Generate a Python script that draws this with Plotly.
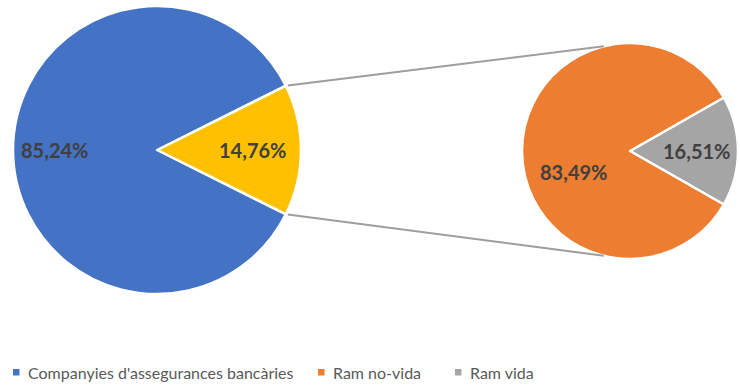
import math
import plotly.graph_objects as go

# Market share: bancassurance companies vs. the rest (main pie)
main_labels = ["Altres", "Companyies d'assegurances bancàries"]
main_values = [14.76, 85.24]
main_colors = ["#FFC000", "#4472C4"]

# Breakdown of the bancassurance share by line of business (secondary pie)
sub_labels = ["Ram vida", "Ram no-vida"]
sub_values = [16.51, 83.49]
sub_colors = ["#A5A5A5", "#ED7D31"]

legend_labels = ["Companyies d'assegurances bancàries", "Ram no-vida", "Ram vida"]
legend_colors = ["#4472C4", "#ED7D31", "#A5A5A5"]

W, H = 740, 387

# Pie geometry in pixels (centre x, centre y from top, radius)
C1 = (157, 150, 144)
C2 = (630, 151, 108)


def px(x):
    return x / W


def py(y):
    return 1 - y / H


def domain(c):
    cx, cy, r = c
    return dict(x=[px(cx - r), px(cx + r)], y=[py(cy + r), py(cy - r)])


def rotation_for_first(values):
    # centre the first slice on 3 o'clock (plotly measures clockwise from 12)
    return 90 - values[0] / sum(values) * 360 / 2


fig = go.Figure()

fig.add_trace(go.Pie(
    labels=main_labels, values=main_values, sort=False, direction="clockwise",
    rotation=rotation_for_first(main_values), domain=domain(C1),
    marker=dict(colors=main_colors, line=dict(color="white", width=2.5)),
    textinfo="none", hoverinfo="skip", showlegend=False,
))
fig.add_trace(go.Pie(
    labels=sub_labels, values=sub_values, sort=False, direction="clockwise",
    rotation=rotation_for_first(sub_values), domain=domain(C2),
    marker=dict(colors=sub_colors, line=dict(color="white", width=2.5)),
    textinfo="none", hoverinfo="skip", showlegend=False,
))


def fmt(v):
    return f"{v:.2f}".replace(".", ",") + "%"


def slice_point(c, values, idx, frac, extra_deg=0.0):
    cx, cy, r = c
    tot = sum(values)
    start = 0.0
    for v in values[:idx]:
        start += v / tot * 360
    mid = start + values[idx] / tot * 360 / 2
    # angle measured clockwise from 3 o'clock, first slice centred there
    a = math.radians(mid - values[0] / tot * 360 / 2 + extra_deg)
    return cx + frac * r * math.cos(a), cy + frac * r * math.sin(a)


label_font = dict(family="Lato, 'Open Sans', sans-serif", size=20, color="#404040")
placements = [
    (C1, main_values, 0, 0.66, 0),
    (C1, main_values, 1, 0.71, 0),
    (C2, sub_values, 0, 0.62, 0),
    (C2, sub_values, 1, 0.56, -20),
]
for c, vals, i, frac, extra in placements:
    x, y = slice_point(c, vals, i, frac, extra)
    fig.add_annotation(x=px(x), y=py(y), xref="paper", yref="paper",
                       text=f"<b>{fmt(vals[i])}</b>", showarrow=False,
                       font=label_font, xanchor="center", yanchor="middle")

# Connector lines from the edges of the exploded slice to the secondary pie
half = main_values[0] / sum(main_values) * math.pi
cx1, cy1, r1 = C1
cx2, cy2, r2 = C2
for s in (-1, 1):
    x0 = cx1 + r1 * math.cos(half)
    y0 = cy1 + s * r1 * math.sin(half)
    a2 = math.radians(104)
    x1 = cx2 + r2 * math.cos(a2)
    y1 = cy2 + s * r2 * math.sin(a2)
    fig.add_shape(type="line", xref="paper", yref="paper",
                  x0=px(x0 + 2), y0=py(y0), x1=px(x1), y1=py(y1),
                  line=dict(color="#9E9E9E", width=2))

# Legend drawn as coloured squares and text
legend_x = [13, 318, 455]
legend_y = 372
for lx, lab, col in zip(legend_x, legend_labels, legend_colors):
    fig.add_shape(type="rect", xref="paper", yref="paper",
                  x0=px(lx), x1=px(lx + 6.5), y0=py(legend_y + 3.5), y1=py(legend_y - 3),
                  fillcolor=col, line=dict(width=0))
    fig.add_annotation(x=px(lx + 13), y=py(legend_y), xref="paper", yref="paper",
                       text=lab, showarrow=False, xanchor="left", yanchor="middle",
                       font=dict(family="Lato, 'Open Sans', sans-serif", size=16, color="#595959"))

fig.update_layout(
    width=W, height=H, margin=dict(l=0, r=0, t=0, b=0),
    paper_bgcolor="white", plot_bgcolor="white",
)

fig.write_html("out.html")
